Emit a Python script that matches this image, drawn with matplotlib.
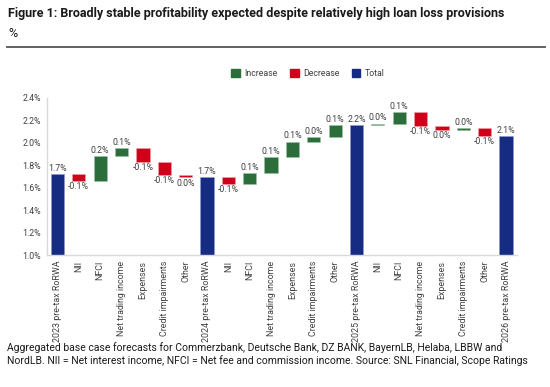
import matplotlib.pyplot as plt
import numpy as np
from matplotlib.patches import Patch
from matplotlib.lines import Line2D

plt.rcParams['font.family'] = ['Roboto', 'DejaVu Sans']

# waterfall data: kind is "total" or "step"; value is level for totals, change for steps
categories = [
    "2023 pre-tax RoRWA", "NII", "NFCI", "Net trading income", "Expenses",
    "Credit impairments", "Other",
    "2024 pre-tax RoRWA", "NII", "NFCI", "Net trading income", "Expenses",
    "Credit impairments", "Other",
    "2025 pre-tax RoRWA", "NII", "NFCI", "Net trading income", "Expenses",
    "Credit impairments", "Other",
    "2026 pre-tax RoRWA",
]
kinds = ["total"] + ["step"] * 6 + ["total"] + ["step"] * 6 + ["total"] + ["step"] * 6 + ["total"]
values = [
    1.72, -0.06, 0.22, 0.07, -0.12, -0.12, -0.02,
    1.69, -0.06, 0.10, 0.14, 0.14, 0.04, 0.11,
    2.16, 0.01, 0.10, -0.12, -0.04, 0.02, -0.07,
    2.06,
]

GREEN, RED, NAVY = "#2b6e3b", "#d0021b", "#152c82"
TXT = "#404040"

fig = plt.figure(figsize=(5.5, 3.87), dpi=100)
ax = fig.add_axes([0.085, 0.341, 0.8545, 0.4065])

level = 0.0
for i, (k, v) in enumerate(zip(kinds, values)):
    if k == "total":
        level = v
        ax.bar(i, v - 1.0, bottom=1.0, width=0.62, color=NAVY, edgecolor="#8f9ad0", lw=0.4)
        ax.text(i, v + 0.01, f"{round(v, 1) + 0.0:.1f}%", ha="center", va="bottom",
                fontsize=6.3, color=TXT)
    else:
        lo, hi = sorted([level, level + v])
        col = GREEN if v > 0 else RED
        ax.bar(i, hi - lo, bottom=lo, width=0.62, color=col,
               edgecolor="#9cc4a4" if v > 0 else "#f0a0a8", lw=0.4)
        lab = f"{round(v, 1) + 0.0:.1f}%"
        if v > 0:
            ax.text(i, hi + 0.01, lab, ha="center", va="bottom", fontsize=6.3, color=TXT)
        else:
            ax.text(i, lo - 0.01, lab, ha="center", va="top", fontsize=6.3, color=TXT)
        level += v

ax.set_xlim(-0.5, len(categories) - 0.5)
ax.set_ylim(1.0, 2.4)
ax.set_yticks(np.arange(1.0, 2.41, 0.2))
ax.set_yticklabels([f"{t:.1f}%" for t in np.arange(1.0, 2.41, 0.2)], fontsize=6.3, color=TXT)
ax.set_xticks(range(len(categories)))
ax.set_xticklabels(categories, rotation=90, fontsize=6.4, color=TXT)
ax.tick_params(length=0, pad=4)
for s in ["top", "right"]:
    ax.spines[s].set_visible(False)
for s in ["left", "bottom"]:
    ax.spines[s].set_color("#d9d9d9")
    ax.spines[s].set_linewidth(1.0)

fig.text(0.015, 0.965, "Figure 1: Broadly stable profitability expected despite relatively high loan loss provisions",
         fontsize=9.0, fontweight="bold", color="#1a1a1a", va="center")
fig.text(0.015, 0.913, "%", fontsize=9, color="#1a1a1a", va="center")
fig.add_artist(Line2D([0.013, 0.99], [0.878, 0.878], color="#555555", lw=1.3,
                      transform=fig.transFigure))

handles = [Patch(color=GREEN, label="Increase"), Patch(color=RED, label="Decrease"),
           Patch(color=NAVY, label="Total")]
fig.legend(handles=handles, loc="center", bbox_to_anchor=(0.56, 0.811), ncol=3,
           frameon=False, fontsize=6.3, handlelength=1.0, handleheight=1.0,
           handletextpad=0.5, columnspacing=1.4, labelcolor=TXT)

fig.text(0.013, 0.085,
         "Aggregated base case forecasts for Commerzbank, Deutsche Bank, DZ BANK, BayernLB, Helaba, LBBW and\n"
         "NordLB. NII = Net interest income, NFCI = Net fee and commission income. Source: SNL Financial, Scope Ratings",
         fontsize=7.45, color="#1a1a1a", va="center", linespacing=1.3)

fig.savefig("out.png", dpi=100)
